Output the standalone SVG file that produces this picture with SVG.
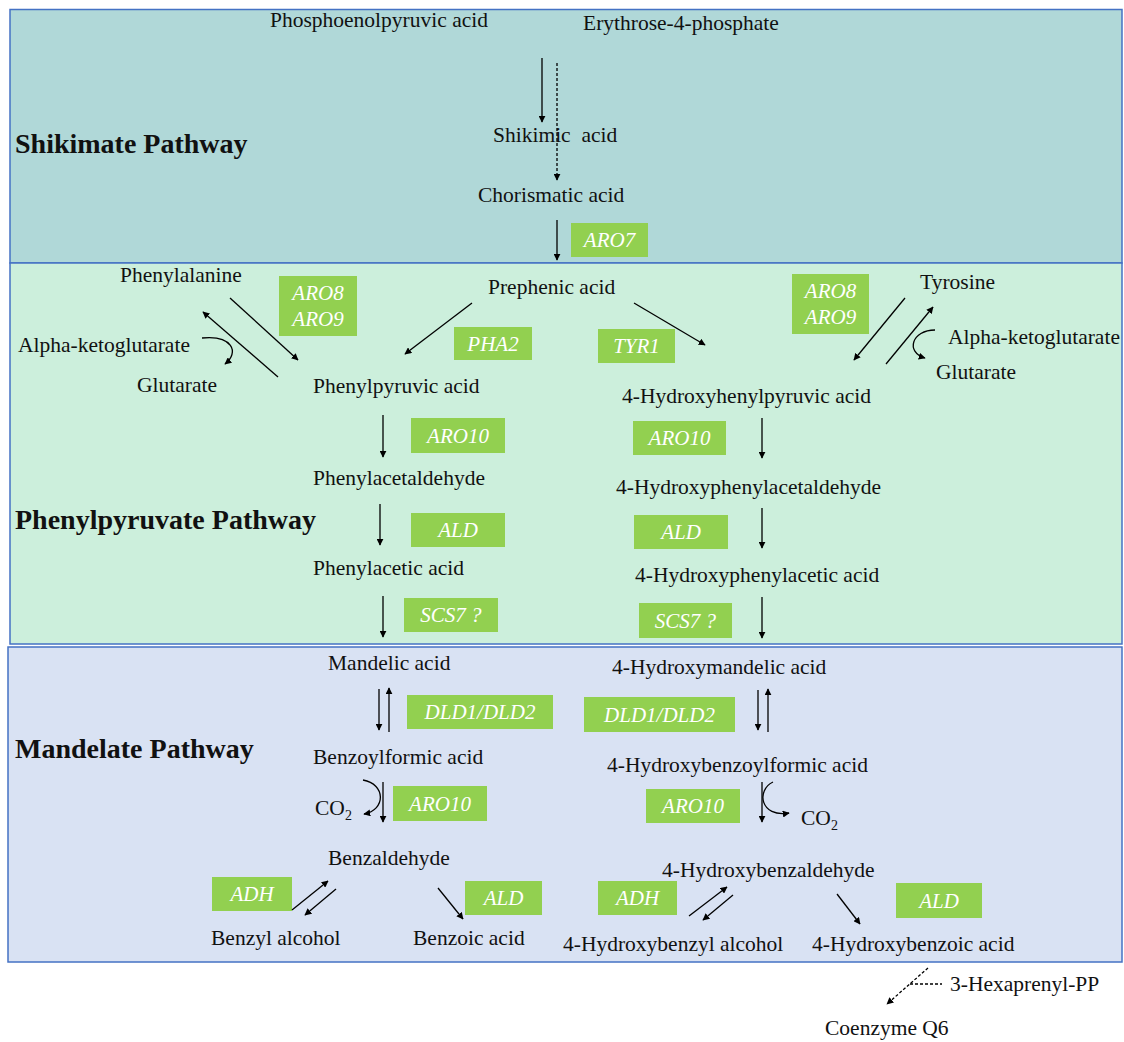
<svg xmlns="http://www.w3.org/2000/svg" width="1124" height="1042" viewBox="0 0 1124 1042">
<defs>
<marker id="ah" viewBox="0 0 10 10" refX="9" refY="5" markerWidth="7" markerHeight="7" orient="auto" markerUnits="userSpaceOnUse"><path d="M0,0 L10,5 L0,10 z" fill="#000"/></marker>
<style>
text{font-family:"Liberation Serif","Times New Roman",serif;font-size:21.5px;fill:#111}
.t{font-weight:bold;font-size:28px}
.e rect{fill:#92d050}
.e text{fill:#fff;font-style:italic;font-size:21px;text-anchor:middle}
.c line,.c path{stroke:#000;stroke-width:1.3;fill:none}
.c .a{marker-end:url(#ah)}
.c .d{stroke-dasharray:3,2}
.p{stroke:#4472c4;stroke-width:1.5}
</style>
</defs>
<rect width="1124" height="1042" fill="#fff"/>
<g id="panels">
<rect class="p" x="10" y="9.5" width="1112" height="253.5" fill="#b0d8d8"/>
<rect class="p" x="10" y="263" width="1112" height="381" fill="#ccefdc"/>
<rect class="p" x="8" y="647" width="1114" height="315" fill="#d9e2f3"/>
</g>
<g id="titles">
<text class="t" x="15" y="153">Shikimate Pathway</text>
<text class="t" x="15" y="529">Phenylpyruvate Pathway</text>
<text class="t" x="15" y="758">Mandelate Pathway</text>
</g>
<g id="n-pep"><text x="270" y="27">Phosphoenolpyruvic acid</text></g>
<g id="n-e4p"><text x="583" y="30">Erythrose-4-phosphate</text></g>
<g id="n-shik"><text x="493" y="142" xml:space="preserve">Shikimic  acid</text></g>
<g id="n-chor"><text x="478" y="202">Chorismatic acid</text></g>
<g id="n-preph"><text x="488" y="294">Prephenic acid</text></g>
<g id="n-phe"><text x="120" y="282">Phenylalanine</text></g>
<g id="n-akg1"><text x="18" y="352">Alpha-ketoglutarate</text></g>
<g id="n-glu1"><text x="137" y="392">Glutarate</text></g>
<g id="n-tyr"><text x="920" y="289">Tyrosine</text></g>
<g id="n-akg2"><text x="948" y="344">Alpha-ketoglutarate</text></g>
<g id="n-glu2"><text x="936" y="379">Glutarate</text></g>
<g id="n-ppa"><text x="313" y="393">Phenylpyruvic acid</text></g>
<g id="n-hppa"><text x="622" y="403">4-Hydroxyhenylpyruvic acid</text></g>
<g id="n-pacald"><text x="313" y="485">Phenylacetaldehyde</text></g>
<g id="n-hpacald"><text x="616" y="494">4-Hydroxyphenylacetaldehyde</text></g>
<g id="n-paa"><text x="313" y="575">Phenylacetic acid</text></g>
<g id="n-hpaa"><text x="635" y="582">4-Hydroxyphenylacetic acid</text></g>
<g id="n-mand"><text x="328" y="670">Mandelic acid</text></g>
<g id="n-hmand"><text x="612" y="674">4-Hydroxymandelic acid</text></g>
<g id="n-bfa"><text x="313" y="764">Benzoylformic acid</text></g>
<g id="n-hbfa"><text x="607" y="772">4-Hydroxybenzoylformic acid</text></g>
<g id="n-co2a"><text x="315" y="815">CO<tspan font-size="14" dy="5">2</tspan></text></g>
<g id="n-co2b"><text x="801" y="825">CO<tspan font-size="14" dy="5">2</tspan></text></g>
<g id="n-bald"><text x="328" y="865">Benzaldehyde</text></g>
<g id="n-hbald"><text x="662" y="877">4-Hydroxybenzaldehyde</text></g>
<g id="n-balc"><text x="211" y="945">Benzyl alcohol</text></g>
<g id="n-bacid"><text x="413" y="945">Benzoic acid</text></g>
<g id="n-hbalc"><text x="563" y="951">4-Hydroxybenzyl alcohol</text></g>
<g id="n-hbacid"><text x="812" y="951">4-Hydroxybenzoic acid</text></g>
<g id="n-hexa"><text x="950" y="991">3-Hexaprenyl-PP</text></g>
<g id="n-q6"><text x="825" y="1035">Coenzyme Q6</text></g>
<g id="enzymes" class="e">
<g id="e-aro7"><rect x="571" y="223" width="77" height="34"/><text x="609.5" y="247">ARO7</text></g>
<g id="e-aro89a"><rect x="279" y="276" width="78" height="60"/><text x="318" y="300">ARO8</text><text x="318" y="326">ARO9</text></g>
<g id="e-aro89b"><rect x="792" y="274" width="77" height="60"/><text x="830.5" y="298">ARO8</text><text x="830.5" y="324">ARO9</text></g>
<g id="e-pha2"><rect x="454" y="327" width="78" height="33"/><text x="493" y="351">PHA2</text></g>
<g id="e-tyr1"><rect x="598" y="329" width="77" height="34"/><text x="636.5" y="353">TYR1</text></g>
<g id="e-aro10a"><rect x="411" y="418" width="94" height="35"/><text x="458" y="443">ARO10</text></g>
<g id="e-aro10b"><rect x="633" y="421" width="93" height="34"/><text x="679.5" y="445">ARO10</text></g>
<g id="e-alda"><rect x="411" y="513" width="94" height="34"/><text x="458" y="537">ALD</text></g>
<g id="e-aldb"><rect x="634" y="515" width="94" height="34"/><text x="681" y="539">ALD</text></g>
<g id="e-scs7a"><rect x="404" y="598" width="94" height="34"/><text x="451" y="622">SCS7 ?</text></g>
<g id="e-scs7b"><rect x="639" y="603" width="93" height="35"/><text x="685.5" y="628">SCS7 ?</text></g>
<g id="e-dlda"><rect x="407" y="695" width="146" height="34"/><text x="480" y="719">DLD1/DLD2</text></g>
<g id="e-dldb"><rect x="584" y="697" width="151" height="35"/><text x="659.5" y="722">DLD1/DLD2</text></g>
<g id="e-aro10c"><rect x="393" y="786" width="94" height="35"/><text x="440" y="811">ARO10</text></g>
<g id="e-aro10d"><rect x="646" y="789" width="94" height="34"/><text x="693" y="813">ARO10</text></g>
<g id="e-adha"><rect x="212" y="877" width="80" height="34"/><text x="252" y="901">ADH</text></g>
<g id="e-alde"><rect x="465" y="881" width="77" height="34"/><text x="503.5" y="905">ALD</text></g>
<g id="e-adhb"><rect x="598" y="881" width="79" height="34"/><text x="637.5" y="905">ADH</text></g>
<g id="e-aldf"><rect x="896" y="883" width="86" height="35"/><text x="939" y="908">ALD</text></g>
</g>
<g id="connectors" class="c">
<line class="a" x1="542" y1="58" x2="542" y2="122"/>
<line class="a d" x1="557" y1="63" x2="557" y2="180"/>
<line class="a" x1="557" y1="220" x2="557" y2="260"/>
<line class="a" x1="472" y1="303" x2="405" y2="354"/>
<line class="a" x1="634" y1="303" x2="705" y2="345"/>
<line class="a" x1="230" y1="298" x2="298" y2="360"/>
<line class="a" x1="278" y1="377" x2="203" y2="312"/>
<path class="a" d="M202,338 C232,335 240,352 225,364"/>
<line class="a" x1="905" y1="298" x2="854" y2="360"/>
<line class="a" x1="886" y1="364" x2="933" y2="307"/>
<path class="a" d="M935,330 C912,330 905,352 925,358"/>
<line class="a" x1="383" y1="415" x2="383" y2="457"/>
<line class="a" x1="380" y1="504" x2="380" y2="545"/>
<line class="a" x1="383" y1="596" x2="383" y2="637"/>
<line class="a" x1="762" y1="418" x2="762" y2="458"/>
<line class="a" x1="762" y1="508" x2="762" y2="548"/>
<line class="a" x1="762" y1="597" x2="762" y2="638"/>
<line class="a" x1="379" y1="689" x2="379" y2="730"/>
<line class="a" x1="389" y1="732" x2="389" y2="688"/>
<line class="a" x1="758" y1="690" x2="758" y2="730"/>
<line class="a" x1="768" y1="732" x2="768" y2="689"/>
<line class="a" x1="383" y1="782" x2="383" y2="822"/>
<path class="a" d="M363,780 C386,784 386,810 364,814"/>
<line class="a" x1="762" y1="782" x2="762" y2="822"/>
<path class="a" d="M773,782 C756,790 760,818 789,813"/>
<line class="a" x1="292" y1="910" x2="328" y2="881"/>
<line class="a" x1="336" y1="889" x2="305" y2="915"/>
<line class="a" x1="438" y1="888" x2="463" y2="919"/>
<line class="a" x1="689" y1="916" x2="727" y2="887"/>
<line class="a" x1="733" y1="895" x2="703" y2="920"/>
<line class="a" x1="837" y1="894" x2="860" y2="924"/>
<line class="a d" x1="928" y1="968" x2="887" y2="1004"/>
<line class="d" x1="910" y1="984" x2="942" y2="984"/>
</g>
</svg>
